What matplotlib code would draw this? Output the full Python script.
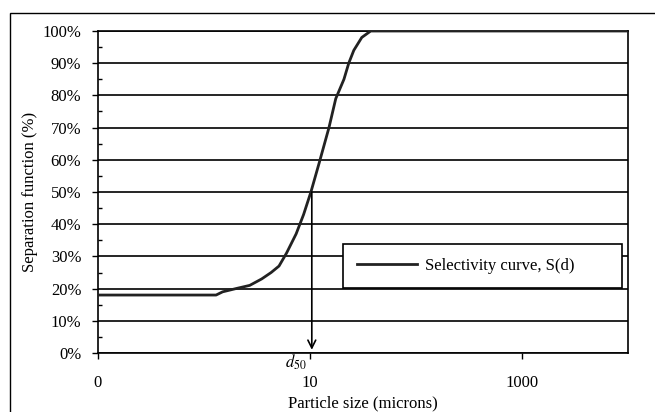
import numpy as np
import matplotlib
matplotlib.use("Agg")
import matplotlib.pyplot as plt
from matplotlib.patches import Rectangle
from matplotlib.ticker import FuncFormatter, MultipleLocator, NullLocator

plt.rcParams['font.family'] = ['Liberation Serif', 'DejaVu Serif']
plt.rcParams['mathtext.fontset'] = 'stix'

# selectivity curve: particle size (microns) vs separation function (%)
d_microns = [0.1, 1.3, 1.5, 2.0, 2.7, 3.5, 4.3, 5.1, 6.0, 7.4, 8.7, 10.2,
             12.2, 15.1, 17.5, 20.9, 23.2, 25.9, 30.8, 37.4, 10000]
sep_pct = [18, 18, 19, 20, 21, 23, 25, 27, 31, 37, 43, 50,
           59, 70, 79, 85, 90, 94, 98, 100, 100]

d50 = 10.4
x_ticks = [0.1, 10, 1000]
x_tick_labels = ["0", "10", "1000"]
y_ticks = list(range(0, 101, 10))

fig = plt.figure(figsize=(6.55, 4.12), dpi=100)
ax = fig.add_axes([98 / 655, 1 - 353 / 412, 530 / 655, 322 / 412])

# outer chart frame (runs off the right and bottom edges)
fig.patches.append(Rectangle((10 / 655, -0.2), 1.2, 1 - 13 / 412 + 0.2,
                             transform=fig.transFigure, fill=False,
                             edgecolor='black', lw=1.0, clip_on=False))

for yv in y_ticks:
    ax.axhline(yv, color='black', lw=1.2, zorder=1)

ax.plot(d_microns, sep_pct, color='#222222', lw=2.0, zorder=3,
        label='Selectivity curve, S(d)')

ax.set_xscale('log')
ax.set_xlim(0.1, 10000)
ax.set_ylim(0, 100)

ax.set_xticks(x_ticks)
ax.set_xticklabels(x_tick_labels)
ax.xaxis.set_minor_locator(NullLocator())
ax.set_yticks(y_ticks)
ax.yaxis.set_minor_locator(MultipleLocator(5))
ax.yaxis.set_major_formatter(FuncFormatter(lambda v, p: f"{v:.0f}%"))

ax.tick_params(axis='x', which='major', direction='out', length=4, pad=12,
               labelsize=12, width=1)
ax.tick_params(axis='y', which='major', direction='out', length=4, pad=8,
               labelsize=12, width=1)
ax.tick_params(axis='y', which='minor', direction='in', length=3, width=1)

for sp in ax.spines.values():
    sp.set_color('black')
    sp.set_linewidth(1.2)

ax.set_xlabel('Particle size (microns)', fontsize=12, labelpad=3)
ax.set_ylabel('Separation function (%)', fontsize=12, labelpad=3)

# d50 marker: drop from the 50% point down to the axis
ax.annotate('', xy=(d50, 1), xytext=(d50, 50),
            arrowprops=dict(arrowstyle='->', color='black', lw=1.2,
                            mutation_scale=14, shrinkA=0, shrinkB=0),
            zorder=4)
ax.text(7.4, -3, r'$d_{50}$', fontsize=12, ha='center', va='center',
        clip_on=False)

leg = ax.legend(loc='lower left', bbox_to_anchor=(0.462, 0.202, 0.527, 0.14),
                mode='expand', borderaxespad=0, fontsize=12, handlelength=3.6,
                handletextpad=0.5, borderpad=0.85,
                fancybox=False, framealpha=1, edgecolor='black')
leg.get_frame().set_linewidth(1.2)

fig.savefig('out.png', dpi=100)
